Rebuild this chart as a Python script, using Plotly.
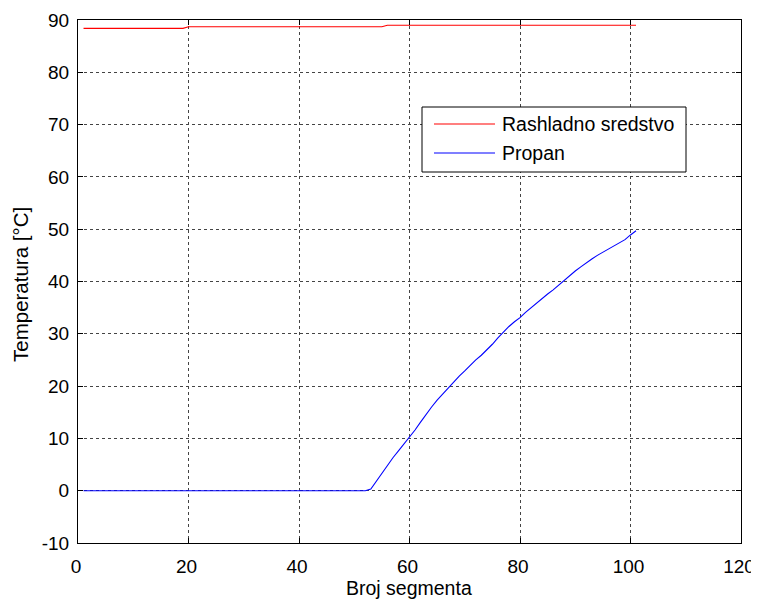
import plotly.graph_objects as go

# Segment numbers
segment = list(range(1, 102))

# Coolant temperature (Rashladno sredstvo)
rashladno = [
    88.4, 88.4, 88.4, 88.4, 88.4, 88.4, 88.4, 88.4, 88.4, 88.4,
    88.4, 88.4, 88.4, 88.4, 88.4, 88.4, 88.4, 88.4, 88.4, 88.7,
    88.7, 88.7, 88.7, 88.7, 88.7, 88.7, 88.7, 88.7, 88.7, 88.7,
    88.7, 88.7, 88.7, 88.7, 88.7, 88.7, 88.7, 88.7, 88.7, 88.7,
    88.7, 88.7, 88.7, 88.7, 88.7, 88.7, 88.7, 88.7, 88.7, 88.7,
    88.7, 88.7, 88.7, 88.7, 88.7, 89.0, 89.0, 89.0, 89.0, 89.0,
    89.0, 89.0, 89.0, 89.0, 89.0, 89.0, 89.0, 89.0, 89.0, 89.0,
    89.0, 89.0, 89.0, 89.0, 89.0, 89.0, 89.0, 89.0, 89.0, 89.0,
    89.0, 89.0, 89.0, 89.0, 89.0, 89.0, 89.0, 89.0, 89.0, 89.0,
    89.0, 89.0, 89.0, 89.0, 89.0, 89.0, 89.0, 89.0, 89.0, 89.0,
    89.0,
]

# Propane temperature (Propan)
propan = [
    0.0, 0.0, 0.0, 0.0, 0.0, 0.0, 0.0, 0.0, 0.0, 0.0,
    0.0, 0.0, 0.0, 0.0, 0.0, 0.0, 0.0, 0.0, 0.0, 0.0,
    0.0, 0.0, 0.0, 0.0, 0.0, 0.0, 0.0, 0.0, 0.0, 0.0,
    0.0, 0.0, 0.0, 0.0, 0.0, 0.0, 0.0, 0.0, 0.0, 0.0,
    0.0, 0.0, 0.0, 0.0, 0.0, 0.0, 0.0, 0.0, 0.0, 0.0,
    0.0, 0.0, 0.3, 1.8, 3.5, 4.8, 6.3, 7.6, 8.9, 10.2,
    11.6, 13.1, 14.6, 16.0, 17.3, 18.5, 19.6, 20.8, 21.9, 22.9,
    24.0, 25.0, 25.9, 26.9, 28.0, 29.2, 30.4, 31.4, 32.3, 33.1,
    34.1, 35.0, 35.9, 36.8, 37.6, 38.4, 39.3, 40.3, 41.2, 42.0,
    42.8, 43.6, 44.3, 45.0, 45.6, 46.2, 46.8, 47.4, 48.0, 48.9,
    49.7,
]

x_ticks = [0, 20, 40, 60, 80, 100, 120]
y_ticks = [-10, 0, 10, 20, 30, 40, 50, 60, 70, 80, 90]
y_tick_labels = ["-10", "0", "10", "20", "30", "40", "50", "60", "70", "80", "90"]
series_names = ["Rashladno sredstvo", "Propan"]
series_colors = ["#ff0000", "#0000ff"]
x_title = "Broj segmenta"
y_title = "Temperatura [°C]"

# page has an 8px body margin; figure is placed at (8, 8)
OFF = 8
W, H = 759 - OFF, 599 - OFF
L, R, T, B = 70, 18, 12, 56
PW, PH = W - L - R, H - T - B


def px(xpage):
    return (xpage - OFF - L) / PW


def py(ypage):
    return (OFF + T + PH - ypage) / PH


fig = go.Figure()
for name, vals, col in zip(series_names, [rashladno, propan], series_colors):
    fig.add_trace(go.Scatter(x=segment, y=vals, mode="lines", name=name,
                             line=dict(color=col, width=1.1), showlegend=False))

FAM = "Liberation Sans, Arial, sans-serif"
font = dict(family=FAM, size=19.5, color="black")
tick_font = dict(family=FAM, size=19, color="black")

axis_common = dict(
    showline=True, linecolor="black", linewidth=1, mirror="allticks",
    ticks="inside", ticklen=5, tickcolor="black",
    showgrid=True, gridcolor="#444444", griddash="dot", gridwidth=1,
    zeroline=False, tickfont=tick_font, automargin=False,
)

fig.update_layout(
    width=W, height=H,
    margin=dict(l=L, r=R, t=T, b=B),
    paper_bgcolor="white", plot_bgcolor="white",
    font=font,
    xaxis=dict(range=[0, 120], tickvals=x_ticks, ticklabelstandoff=6,
               ticklabelshift=-2, ticklabeloverflow="allow", **axis_common),
    yaxis=dict(range=[-10, 90], tickvals=y_ticks, ticktext=y_tick_labels,
               ticklabelstandoff=4, **axis_common),
)

# Axis titles
fig.add_annotation(xref="paper", yref="paper", x=px(409), y=py(588),
                   text=x_title, showarrow=False, xanchor="center", yanchor="middle",
                   font=font)
fig.add_annotation(xref="paper", yref="paper", x=px(21), y=py(285),
                   text=y_title, showarrow=False, xanchor="center", yanchor="middle",
                   textangle=-90, font=dict(family=FAM, size=20.5, color="black"))

# Custom legend box (MATLAB style)
fig.add_shape(type="rect", xref="paper", yref="paper",
              x0=px(422), x1=px(686), y0=py(172), y1=py(107),
              line=dict(color="black", width=1), fillcolor="white", layer="above")
leg_rows = [124, 153]
for name, col, yy in zip(series_names, series_colors, leg_rows):
    fig.add_shape(type="line", xref="paper", yref="paper",
                  x0=px(434), x1=px(495), y0=py(yy), y1=py(yy),
                  line=dict(color=col, width=1.1), layer="above")
    fig.add_annotation(xref="paper", yref="paper", x=px(500), y=py(yy),
                       text=name, showarrow=False, xanchor="left", yanchor="middle",
                       font=font)

fig.write_html("out.html")
